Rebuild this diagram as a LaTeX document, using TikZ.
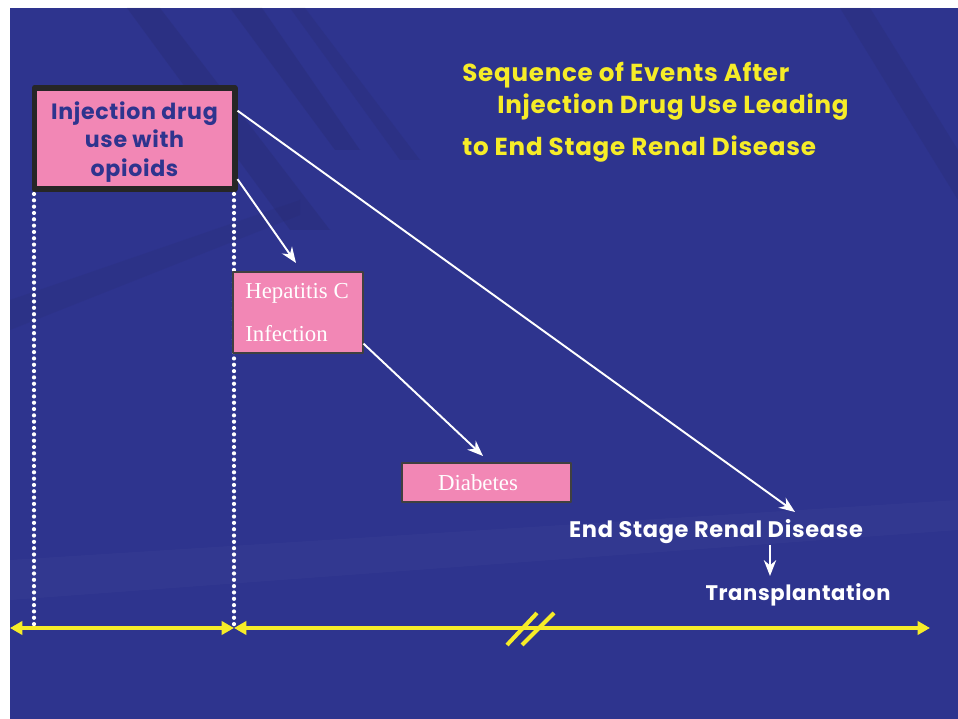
\documentclass[tikz,border=0pt]{standalone}
\usepackage{fontspec}
\setmainfont{Liberation Serif}
\newfontfamily\comicfont{Poppins}[LetterSpace=3]
\usetikzlibrary{arrows.meta,positioning,calc}
\definecolor{slide}{RGB}{46,52,142}
\definecolor{slidedark}{RGB}{38,40,100}
\definecolor{pinkfill}{RGB}{242,135,181}
\definecolor{ylw}{RGB}{246,236,40}

\begin{document}
\begin{tikzpicture}[x=0.02cm,y=-0.02cm, line join=round,
  title/.style={text=ylw, font=\comicfont\bfseries\fontsize{14}{17}\selectfont, inner sep=0pt, anchor=base west},
  whitetxt/.style={text=white, font=\comicfont\bfseries\fontsize{12.8}{15}\selectfont, inner sep=0pt, anchor=base},
  pinkbox/.style={fill=pinkfill, draw=black!75, line width=0.6pt, inner sep=0pt},
  serif/.style={text=white, font=\fontsize{13}{15}\selectfont, inner sep=0pt, anchor=base west},
  conn/.style={white, line width=1.1pt, -{Stealth[length=9pt,width=7pt]}},
  guide/.style={white, line width=2.4pt, line cap=round, dash pattern=on 0pt off 3.6pt},
  timeline/.style={ylw, line width=2.3pt, {Triangle[length=7pt,width=7.5pt]}-{Triangle[length=7pt,width=7.5pt]}}]
\useasboundingbox (0,0) rectangle (958,719);
\fill[white] (0,0) rectangle (958,719);
\fill[slide] (10,8) rectangle (958,719);
\fill[slidedark, opacity=0.25] (127,8) -- (160,8) -- (330,230) -- (290,230) -- cycle;
\fill[slidedark, opacity=0.25] (230,8) -- (262,8) -- (360,150) -- (335,150) -- cycle;
\fill[slidedark, opacity=0.2] (290,8) -- (305,8) -- (420,160) -- (400,160) -- cycle;
\fill[slidedark, opacity=0.2] (840,8) -- (870,8) -- (958,150) -- (958,200) -- cycle;
\fill[slidedark, opacity=0.15] (10,300) -- (300,200) -- (300,215) -- (10,330) -- cycle;
\fill[white, opacity=0.025] (10,560) -- (958,500) -- (958,530) -- (10,600) -- cycle;

\node[title] (t1) at (462,82) {Sequence of Events After};
\node[title] (t2) at (497,114) {Injection Drug Use Leading};
\node[title] (t3) at (462,156) {to End Stage Renal Disease};

\node[fill=pinkfill, draw=black!85, line width=0.12cm, minimum width=200*0.02cm, minimum height=101*0.02cm, inner sep=0pt] (inj) at (134.5,138.5) {};
\node[align=center, text=slide, font=\comicfont\bfseries\fontsize{12.6}{16}\selectfont, inner sep=0pt] (injtxt) at (134.5,142) {Injection drug\\use with\\opioids};

\draw[guide] (34,194) -- (34,626);
\draw[guide] (234,194) -- (234,626);

\node[pinkbox, minimum width=130*0.02cm, minimum height=81*0.02cm] (hep) at (298,312.5) {};
\node[serif] (heptxt1) at (245,299) {Hepatitis C};
\node[serif] (heptxt2) at (245,342) {Infection};

\node[pinkbox, minimum width=169*0.02cm, minimum height=39*0.02cm] (dia) at (486.5,482.5) {};
\node[serif, anchor=base] (diatxt) at (478,491) {Diabetes};

\node[whitetxt] (esrd) at (716,538) {End Stage Renal Disease};
\node[whitetxt, font=\comicfont\bfseries\fontsize{12}{15}\selectfont] (tx) at (798,601) {Transplantation};

\coordinate (esrdtip) at (795,512);
\coordinate (heptip) at (296,263);
\coordinate (diatip) at (483,456);
\coordinate (txtip) at (770,576);

\draw[conn] ($(inj.north east)!0.24!(inj.south east)$) -- (esrdtip);
\draw[conn] ($(inj.north east)!0.88!(inj.south east)$) -- (heptip);
\draw[conn] ($(hep.north east)!0.88!(hep.south east)$) -- (diatip);
\draw[conn] (770,545) -- (txtip);

\coordinate (tlA) at (10,628);
\coordinate (tlB) at (234,628);
\coordinate (tlC) at (930,628);
\draw[timeline] (tlA) -- (tlB);
\draw[timeline] (tlB) -- (tlC);
\draw[ylw, line width=2.3pt] (507,645) -- (537,613) (522,645) -- (554,613);
\end{tikzpicture}
\end{document}
